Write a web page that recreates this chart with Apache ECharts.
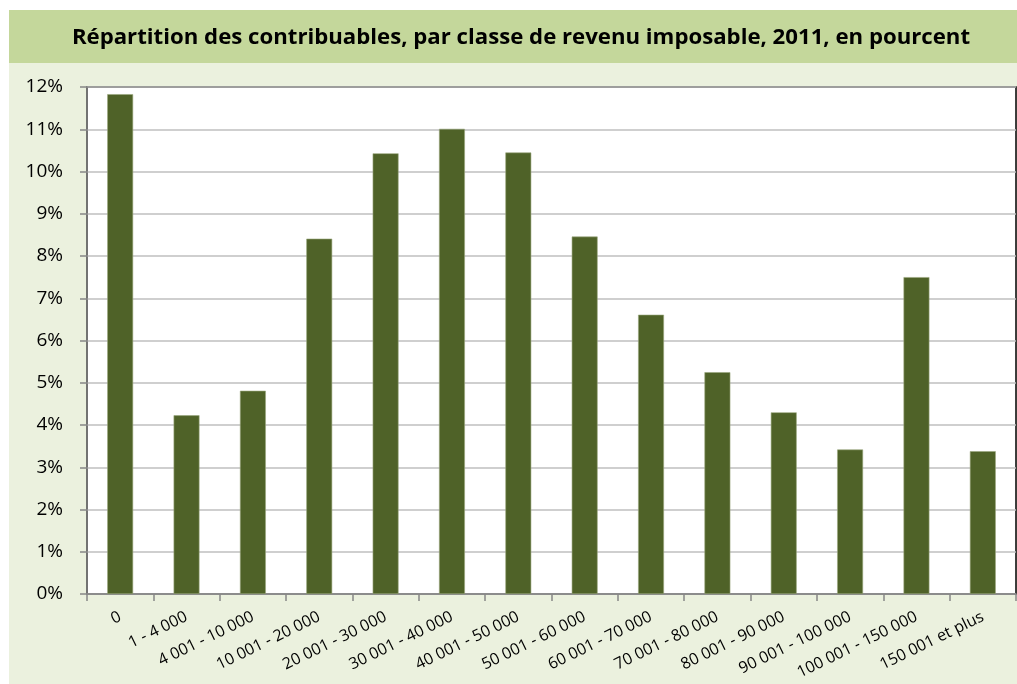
<!DOCTYPE html>
<html>
<head>
<meta charset="utf-8">
<script src="https://cdn.jsdelivr.net/npm/echarts@6/dist/echarts.min.js"></script>
<style>
  html, body { margin: 0; padding: 0; background: #fff; }
  #chart { width: 1017px; height: 684px; }
</style>
</head>
<body>
<div id="chart"></div>
<script>
// classes de revenu imposable
var categories = ['0', '1 - 4 000', '4 001 - 10 000', '10 001 - 20 000', '20 001 - 30 000',
    '30 001 - 40 000', '40 001 - 50 000', '50 001 - 60 000', '60 001 - 70 000',
    '70 001 - 80 000', '80 001 - 90 000', '90 001 - 100 000', '100 001 - 150 000', '150 001 et plus'];
// part des contribuables, en %
var parts = [11.83, 4.23, 4.81, 8.41, 10.43, 11.01, 10.45, 8.46, 6.61, 5.25, 4.30, 3.42, 7.50, 3.38];
var yMin = 0, yMax = 12, yStep = 1;

var font = '"Open Sans", Lato, sans-serif';

function drawChart() {
    var chartDom = document.getElementById('chart');
    var myChart = echarts.init(chartDom);
    var option;

    option = {
        backgroundColor: '#ffffff',
        animation: false,
        graphic: [
            // fond du panneau
            { type: 'rect', z: -10, silent: true, shape: { x: 9, y: 10, width: 1008, height: 674 }, style: { fill: '#ebf1de' } },
            // bandeau du titre
            { type: 'rect', z: -9, silent: true, shape: { x: 9, y: 10, width: 1008, height: 53 }, style: { fill: '#c4d79b' } }
        ],
        title: {
            text: 'Répartition des contribuables, par classe de revenu imposable, 2011, en pourcent',
            left: 516,
            textAlign: 'center',
            top: 22,
            textStyle: { fontFamily: font, fontWeight: 'bold', fontSize: 22.2, color: '#000' }
        },
        grid: {
            left: 87, top: 87, right: 1, bottom: 90,
            show: true,
            backgroundColor: '#ffffff',
            borderColor: '#000000',
            borderWidth: 1.5
        },
        xAxis: {
            type: 'category',
            data: categories,
            axisLine: { lineStyle: { color: '#868686', width: 1.5 } },
            axisTick: { show: true, length: 7, lineStyle: { color: '#868686', width: 1.5 } },
            axisLabel: {
                rotate: 26,
                margin: 22,
                interval: 0,
                fontFamily: font,
                fontSize: 16,
                color: '#000'
            }
        },
        yAxis: {
            type: 'value',
            min: yMin,
            max: yMax,
            interval: yStep,
            axisLine: { show: true, lineStyle: { color: '#868686', width: 1.5 } },
            axisTick: { show: true, length: 7, lineStyle: { color: '#868686', width: 1.5 } },
            axisLabel: {
                formatter: '{value}%',
                margin: 24,
                fontFamily: font,
                fontSize: 19,
                color: '#000'
            },
            splitLine: { lineStyle: { color: '#bfbfbf', width: 1.5 } }
        },
        series: [
            {
                type: 'bar',
                data: parts,
                barWidth: '39%',
                itemStyle: { color: '#4f6228', borderColor: '#9aa87e', borderWidth: 0.6 }
            }
        ]
    };

    option && myChart.setOption(option);
}

drawChart();
</script>
</body>
</html>
